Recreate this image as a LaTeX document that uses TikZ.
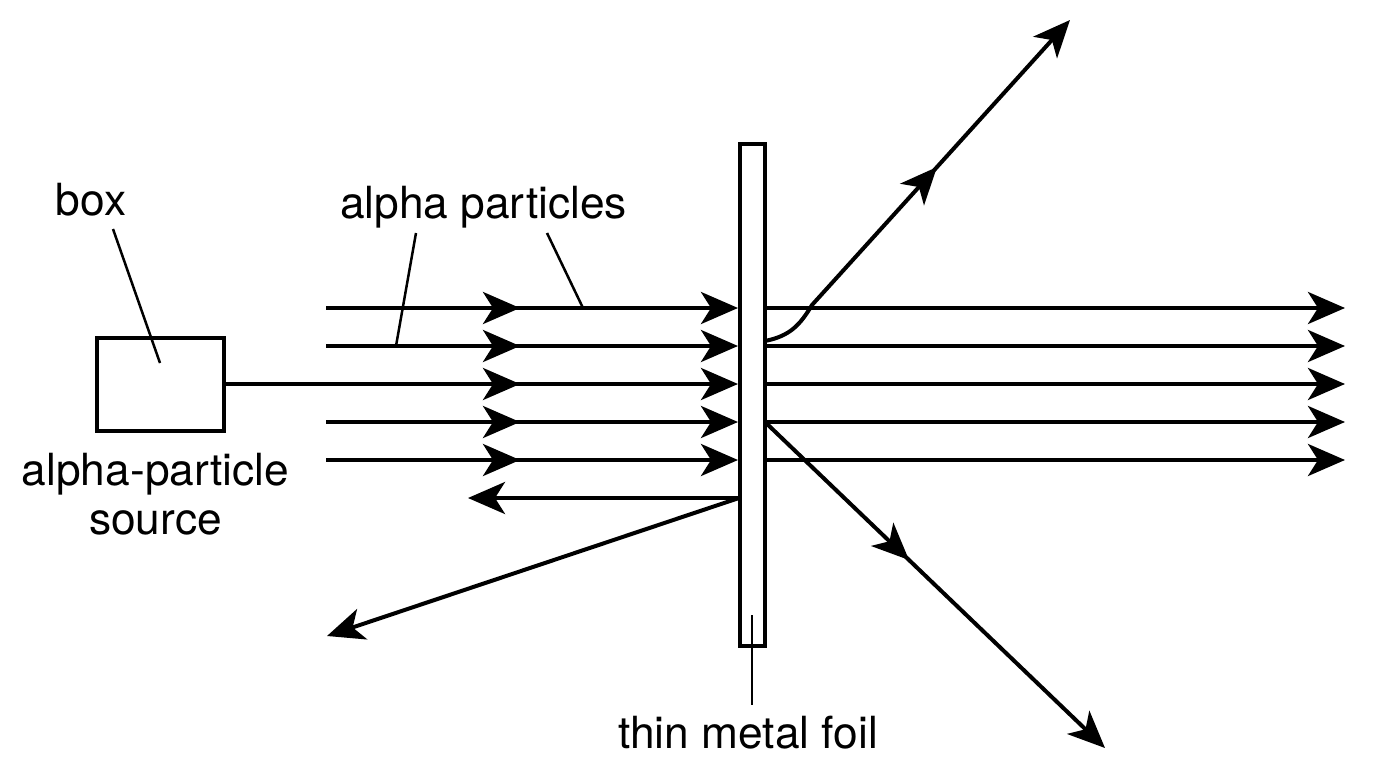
\documentclass[tikz,border=0pt]{standalone}
\usepackage{fontspec}
\setmainfont{TeX Gyre Heros}
\usetikzlibrary{arrows.meta,calc}
\tikzset{
  x=1pt, y=-1pt,
  ray/.style     = {line width=4pt, -{Stealth[length=37pt,width=32pt,inset=10pt]}},
  joined/.style  = {ray, shorten <=-5pt},
  leader/.style  = {line width=2.5pt},
  outline/.style = {draw, line width=4pt, fill=white},
  label/.style   = {font=\fontsize{44.3}{49}\selectfont, align=center, inner sep=0pt}
}
\begin{document}
\begin{tikzpicture}
    \useasboundingbox (0,0) rectangle (1376,768);
    % incoming rays
    \foreach \i/\y in {a/308,b/346,c/384,d/422,e/460} {
      \coordinate (in\i) at (326,\y);
      \coordinate (mid\i) at (520,\y);
      \coordinate (hit\i) at (738,\y);
      \coordinate (out\i) at (765,\y);
      \coordinate (end\i) at (1345,\y);
      \draw[joined] (mid\i) -- (hit\i);
      \draw[ray] (out\i) -- (end\i);
    }
    \foreach \i in {a,b,d,e} \draw[ray] (in\i) -- (mid\i);
    % source box
    \node[outline, minimum width=127pt, minimum height=93pt, inner sep=0pt] (source) at (160.5,384) {};
    \draw[ray] (source.east) -- (midc);
    % foil
    \node[outline, minimum width=25.5pt, minimum height=502pt, inner sep=0pt] (foil) at (752.5,395) {};
    % scattered rays
    \coordinate (backhit) at (739,498);
    \coordinate (backend) at (468,498);
    \coordinate (lowhit) at (739,498);
    \coordinate (lowend) at (327,636);
    \coordinate (upstart) at (765,341);
    \coordinate (upmid) at (937,167);
    \coordinate (upend) at (1070,20);
    \coordinate (downstart) at (765,422);
    \coordinate (downmid) at (909,560);
    \coordinate (downend) at (1105,748);
    \draw[ray] (backhit) -- (backend);
    \draw[ray] (lowhit) -- (lowend);
    \draw[ray] (upstart) .. controls (790,336) and (800,325) .. (812,305) -- (upmid);
    \draw[joined] (upmid) -- (upend);
    \draw[ray] (downstart) -- (downmid);
    \draw[joined] (downmid) -- (downend);
    % labels
    \node[label] (boxlabel) at (91,200) {box};
    \node[label] (alphalabel) at (483.5,207) {alpha particles};
    \node[label] (sourcelabel) at (155.5,494) {alpha-particle\\source};
    \node[label] (foillabel) at (748,733) {thin metal foil};
    % leaders
    \coordinate (boxtip) at (160,363);
    \coordinate (boxtop) at (113,229);
    \coordinate (leadb) at (396,346);
    \coordinate (leadbtop) at (416,233);
    \coordinate (leada) at (583,308);
    \coordinate (leadatop) at (547,233);
    \coordinate (foiltip) at (752,615);
    \coordinate (foilbot) at (752,705);
    \draw[leader] (boxtop) -- (boxtip);
    \draw[leader] (leadbtop) -- (leadb);
    \draw[leader] (leadatop) -- (leada);
    \draw[leader] (foiltip) -- (foilbot);
\end{tikzpicture}
\end{document}
